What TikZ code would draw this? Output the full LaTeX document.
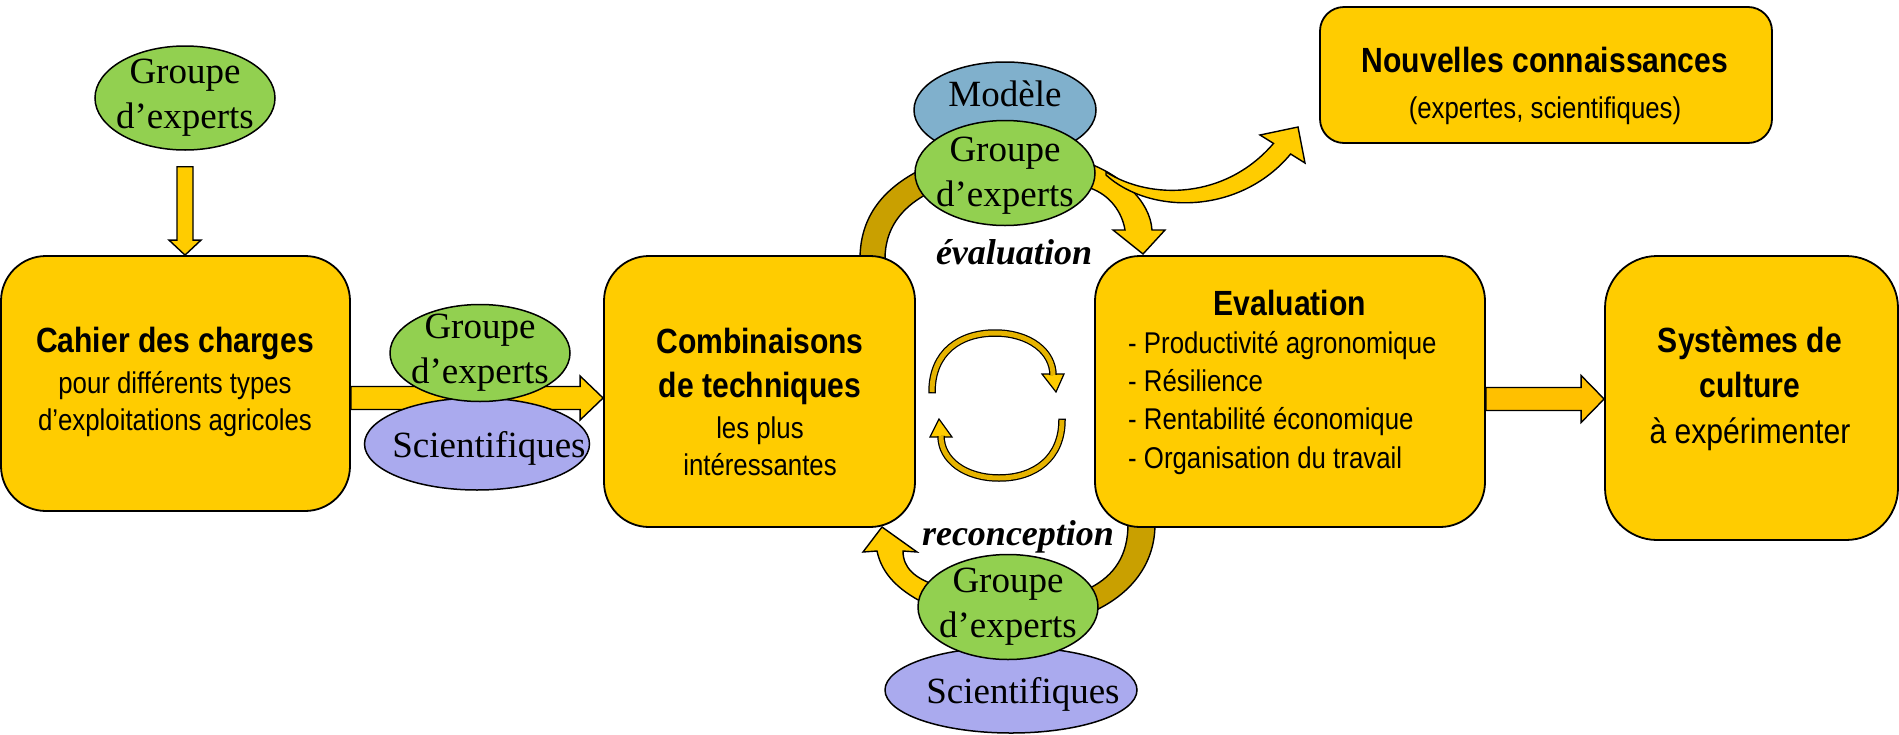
\documentclass[tikz,border=0pt]{standalone}
\usepackage{fontspec}
\setmainfont{Liberation Serif}
\newfontfamily\narrowsf[FakeStretch=0.86]{Liberation Sans}
\usetikzlibrary{shapes.geometric,calc}

\definecolor{boxyellow}{HTML}{FFCC00}
\definecolor{arrowamber}{HTML}{FFC000}
\definecolor{arcgold}{HTML}{C9A000}
\definecolor{expertgreen}{HTML}{92D050}
\definecolor{modelblue}{HTML}{80B0CC}
\definecolor{scilavender}{HTML}{AAAAEE}
\definecolor{cyclegold}{HTML}{E6B400}

\pgfdeclarelayer{back}
\pgfsetlayers{back,main}

\begin{document}
\begin{tikzpicture}[x=1pt,y=-1pt,
  stagebox/.style={rectangle, draw=black, line width=1.8pt, fill=boxyellow,
    rounded corners=45pt, inner sep=0pt},
  boxtext/.style={font=\narrowsf\fontsize{30}{37}\selectfont, align=center,
    inner sep=0pt, anchor=north},
  titletext/.style={font=\narrowsf\bfseries\fontsize{35}{37}\selectfont,
    inner sep=0pt, anchor=base},
  actor/.style={ellipse, draw=black, line width=1.5pt, inner sep=0pt},
  expert/.style={actor, fill=expertgreen, minimum width=180pt, minimum height=104pt},
  scient/.style={actor, fill=scilavender},
  elltext/.style={font=\fontsize{37}{45}\selectfont, align=center, inner sep=0pt},
  looptext/.style={font=\bfseries\itshape\fontsize{36}{40}\selectfont,
    inner sep=0pt, anchor=base},
  blockarrow/.style={draw=black, line width=1.4pt, fill=boxyellow, line join=miter},
  bandarc/.style={draw=black, line width=1.4pt, fill=arcgold},
  cyclehead/.style={draw=black, line width=1.2pt, fill=boxyellow, line join=miter},
  cycleedge/.style={draw=black, line width=7.5pt},
  cyclecore/.style={draw=cyclegold, line width=5pt}
]
\useasboundingbox (0,0) rectangle (1899,734);

% ---- stage boxes ----
\node[stagebox, minimum width=349pt, minimum height=255pt] (b1) at (175.5,383.5) {};
\node[stagebox, minimum width=311pt, minimum height=271pt] (b2) at (759.5,391.5) {};
\node[stagebox, minimum width=390pt, minimum height=271pt] (b3) at (1290,391.5) {};
\node[stagebox, minimum width=293pt, minimum height=284pt, rounded corners=52pt] (b4) at (1751.5,398) {};
\node[stagebox, minimum width=452pt, minimum height=136pt, rounded corners=24pt] (b5) at (1546,75) {};

% ---- box texts ----
\node[boxtext] (b1t) at (175,322) {\rule{0pt}{30pt}{\bfseries\fontsize{35}{37}\selectfont Cahier des charges}\\[4pt]
  pour différents types\\ d’exploitations agricoles};
\node[boxtext] (b2t) at (760,323) {\rule{0pt}{30pt}{\bfseries\fontsize{35}{37}\selectfont Combinaisons}\\[7pt]
  {\bfseries\fontsize{35}{37}\selectfont de techniques}\\[4pt] les plus\\ intéressantes};
\node[titletext] (b3t) at (1290,315) {Evaluation};
\node[boxtext, align=left, anchor=north west, font=\narrowsf\fontsize{30}{38.3}\selectfont] (b3l) at (1128,323)
  {\rule{0pt}{30pt}- Productivité agronomique\\ - Résilience\\ - Rentabilité économique\\ - Organisation du travail};
\node[boxtext, font=\narrowsf\fontsize{35}{45.5}\selectfont] (b4t) at (1750,322)
  {\rule{0pt}{30pt}\textbf{Systèmes de}\\ \textbf{culture}\\ à expérimenter};
\node[boxtext, font=\narrowsf\fontsize{30}{46}\selectfont] (b5t) at (1545,42)
  {\rule{0pt}{30pt}{\bfseries\fontsize{35}{46}\selectfont Nouvelles connaissances}\\ (expertes, scientifiques)};

% ---- actors ----
\node[expert, label={[elltext]center:{Groupe\\d’experts}}] (g1) at (185,98) {};

\node[scient, minimum width=225pt, minimum height=92pt,
  label={[elltext, xshift=12pt, yshift=-4.5pt]center:Scientifiques}] (s2) at (477,444) {};
\node[expert, minimum height=97pt, label={[elltext]center:{Groupe\\d’experts}}] (g2) at (480,353) {};

\node[actor, fill=modelblue, minimum width=182pt, minimum height=96pt,
  label={[elltext, yshift=16pt]center:Modèle}] (mod) at (1005,110) {};
\node[expert, minimum height=105pt, label={[elltext, yshift=-3pt]center:{Groupe\\d’experts}}] (gt) at (1005,173) {};

\node[scient, minimum width=252pt, minimum height=86pt,
  label={[elltext, xshift=12pt, yshift=-4.5pt]center:Scientifiques}] (sb) at (1011,690) {};
\node[expert, minimum height=105pt, label={[elltext]center:{Groupe\\d’experts}}] (gb) at (1008,607) {};

% ---- loop labels ----
\node[looptext] (evl) at (1014,264) {évaluation};
\node[looptext] (rec) at (1018,545) {reconception};

\begin{pgfonlayer}{back}
  % straight block arrows
  \coordinate (a1tip) at (g1.south |- b1.north);
  \draw[blockarrow] ($(g1.south)+(-8,16)$) -- ($(a1tip)+(-8,-15)$) -- ($(a1tip)+(-16,-15)$)
    -- (a1tip) -- ($(a1tip)+(16,-15)$) -- ($(a1tip)+(8,-15)$) -- ($(g1.south)+(8,16)$) -- cycle;

  \coordinate (a2tip) at ($(b2.west)+(0,6.5)$);
  \draw[blockarrow] ($(b1.east |- a2tip)+(0,-11.5)$) -- ($(a2tip)+(-23,-11.5)$) -- ($(a2tip)+(-23,-22)$)
    -- (a2tip) -- ($(a2tip)+(-23,22)$) -- ($(a2tip)+(-23,11.5)$) -- ($(b1.east |- a2tip)+(0,11.5)$) -- cycle;

  \coordinate (a3tip) at ($(b4.west)+(0,1)$);
  \draw[blockarrow, fill=arrowamber] ($(b3.east |- a3tip)+(0,-11.5)$) -- ($(a3tip)+(-23,-11.5)$) -- ($(a3tip)+(-23,-23.5)$)
    -- (a3tip) -- ($(a3tip)+(-23,23.5)$) -- ($(a3tip)+(-23,11.5)$) -- ($(b3.east |- a3tip)+(0,11.5)$) -- cycle;

  % evaluation loop: combinaisons -> experts
  \draw[bandarc] (860,259) .. controls (860,215) and (885,188) .. (920,170)
    -- (925,195) .. controls (902,208) and (885,228) .. (885,259) -- cycle;
  % experts -> evaluation
  \draw[blockarrow] (1088,163) .. controls (1120,175) and (1150,200) .. (1152,230)
    -- (1165,230) -- (1143,254) -- (1113,230) -- (1125,230)
    .. controls (1122,212) and (1110,195) .. (1090,188) -- cycle;
  % experts -> nouvelles connaissances
  \draw[blockarrow] (1106,172) .. controls (1150,200) and (1225,200) .. (1273.5,143.4)
    -- (1260,135) -- (1298,127) -- (1305,163) -- (1290.6,154)
    .. controls (1240,215) and (1150,215) .. (1106,175) -- cycle;

  % reconception loop: evaluation -> experts
  \draw[bandarc] (1128,524) .. controls (1128,555) and (1115,575) .. (1090,588)
    -- (1092,612) .. controls (1130,595) and (1155,565) .. (1155,524) -- cycle;
  % experts -> combinaisons
  \draw[blockarrow] (877,551) .. controls (882,575) and (900,592) .. (930,606)
    -- (935,585) .. controls (915,578) and (903,568) .. (903,551)
    -- (917,552) -- (882,527) -- (863,552) -- cycle;
\end{pgfonlayer}

% ---- central cycle symbol ----
\draw[cyclehead] (1042,374) -- (1064,374) -- (1056,392) -- cycle;
\draw[cycleedge] (932,393.3) -- (932,392) .. controls (932,352) and (960,333) .. (995,333)
  .. controls (1030,333) and (1053,352) .. (1053,375);
\draw[cyclecore] (932,392) .. controls (932,352) and (960,333) .. (995,333)
  .. controls (1030,333) and (1053,352) .. (1053,375);

\draw[cyclehead] (930,437) -- (952,437) -- (939,419) -- cycle;
\draw[cycleedge] (1062,418.7) -- (1062,420) .. controls (1062,458) and (1035,478) .. (999,478)
  .. controls (965,478) and (941,460) .. (941,436);
\draw[cyclecore] (1062,420) .. controls (1062,458) and (1035,478) .. (999,478)
  .. controls (965,478) and (941,460) .. (941,436);
\end{tikzpicture}
\end{document}
